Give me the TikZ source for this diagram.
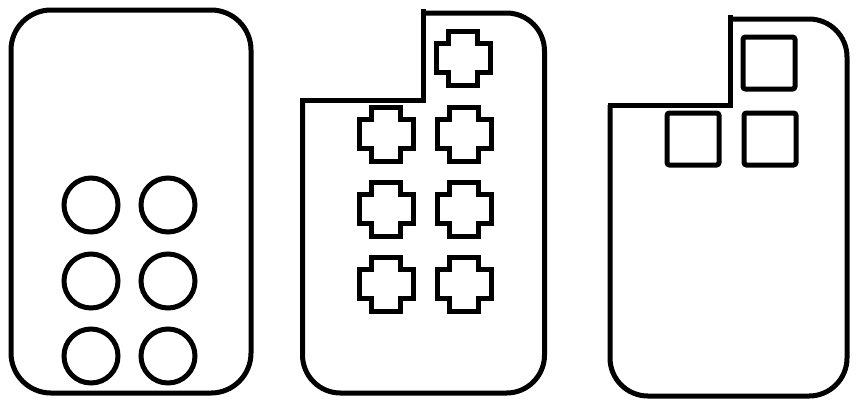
\documentclass[tikz,border=0pt]{standalone}
\usepackage{tikz}
\tikzset{
  housing/.style={draw=black, line width=5pt, line join=miter},
  roundpin/.style={draw=black, line width=5pt},
  crosspin/.style={draw=black, line width=5pt, line join=miter},
  squarepin/.style={draw=black, line width=5pt, rounded corners=2.5pt}
}

\begin{document}
\begin{tikzpicture}[x=1pt,y=-1pt]
  \useasboundingbox (0,0) rectangle (858,400);

  % left housing, round pins
  \draw[housing, rounded corners=40pt] (11,10) rectangle (251,393);
  \foreach \px in {91,168}
    \foreach \py in {205,281,356}
      \draw[roundpin] (\px,\py) circle[radius=27];

  % middle housing, cross pins
  \draw[housing] (423,9) -- (423,100) -- (300,100);
  \draw[housing, rounded corners=38pt] (302.5,100) -- (302.5,393)
    -- (544.5,393) -- (544.5,13) -- (423,13);
  \foreach \px/\py in {463/58, 386/134, 464/134, 386/209, 464/209,
                       386/284, 464/284}
    \draw[crosspin, shift={(\px,\py)}]
      (-14.5,-27) -- (14.5,-27) -- (14.5,-14.5) -- (27,-14.5)
      -- (27,14.5) -- (14.5,14.5) -- (14.5,27) -- (-14.5,27)
      -- (-14.5,14.5) -- (-27,14.5) -- (-27,-14.5) -- (-14.5,-14.5) -- cycle;

  % right housing, square pins
  \draw[housing] (730,15) -- (730,105) -- (607.5,105);
  \draw[housing, rounded corners=38pt] (610,105) -- (610,396)
    -- (847,396) -- (847,19) -- (730,19);
  \foreach \px/\py in {769/63, 693/139, 770/139}
    \draw[squarepin] (\px-26,\py-26) rectangle (\px+26,\py+26);
\end{tikzpicture}
\end{document}
